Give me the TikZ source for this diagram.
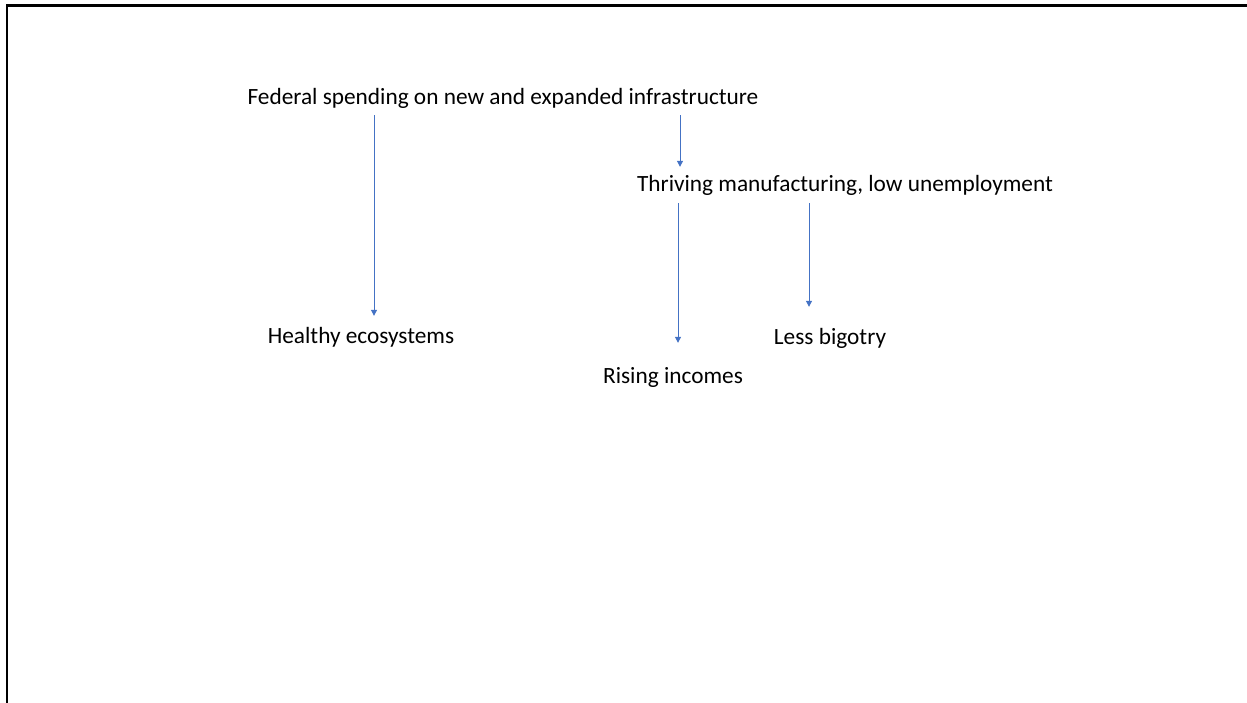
\documentclass[tikz,border=0pt]{standalone}
\usepackage{fontspec}
\setmainfont{Carlito}
\usepackage{tikz}
\usetikzlibrary{arrows.meta}
\definecolor{linkblue}{HTML}{4472C4}

\begin{document}
\begin{tikzpicture}[x=1pt, y=-1pt,
	box/.style={inner sep=0pt, anchor=base, text height=17pt, text depth=5pt, font=\fontsize{23.3}{28}\selectfont},
	link/.style={draw=linkblue, line width=1pt, -{Triangle[length=6pt,width=6pt]}}]
	\clip (0,0) rectangle (1247,702);
	%frame, cut off at the right and bottom
	\draw[line width=2.5pt] (7,720) -- (7,5.5) -- (1270,5.5);

	\node[box] (fed) at (503,104) {Federal spending on new and expanded infrastructure};
	\node[box] (thr) at (845,191) {Thriving manufacturing, low unemployment};
	\node[box] (eco) at (361,343) {Healthy ecosystems};
	\node[box] (inc) at (673,383) {Rising incomes};
	\node[box] (big) at (830,344) {Less bigotry};

	\coordinate (c1) at (374,0);
	\coordinate (c2) at (680,0);
	\coordinate (c3) at (678,0);
	\coordinate (c4) at (809,0);

	\foreach \a/\b/\c/\s/\e in {fed/eco/c1/6pt/10pt, fed/thr/c2/6pt/7pt, thr/inc/c3/7pt/23pt, thr/big/c4/7pt/20pt}
		\draw[link, shorten <=\s, shorten >=\e] (\a.south -| \c) -- (\b.north -| \c);
\end{tikzpicture}
\end{document}
